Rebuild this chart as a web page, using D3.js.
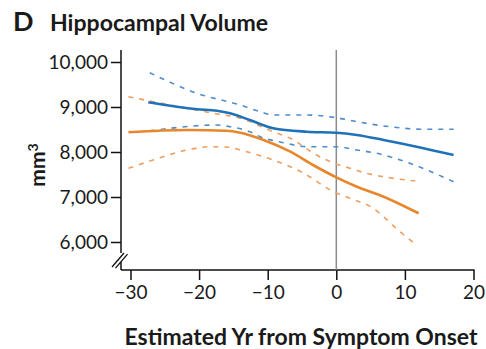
<!DOCTYPE html>
<meta charset="UTF-8">
<head>
    <title>Hippocampal Volume</title>
</head>
<style>
    body { margin: 0; background: #fff; }
    svg text { font-family: Lato, "Open Sans", sans-serif; fill: #1a1a1a; }
</style>
<body>
<div id="chart"></div>
<script src="https://d3js.org/d3.v7.min.js"></script>
<script>
    // 数据 (estimated from the figure)
    var xTicks = [-30, -20, -10, 0, 10, 20];
    var yTicks = [6000, 7000, 8000, 9000, 10000];

    var blueYr = [-27.4, -20.3, -17.4, -15.5, -12.6, -9.2, -4.3, 0, 3, 6.9, 11.7, 17.1];
    var blueMid = [9104, 8950, 8915, 8860, 8711, 8527, 8451, 8429, 8378, 8267, 8118, 7933];
    var blueUpYr = [-27.2, -20.3, -14, -11.1, -9.2, -4.3, 0, 3, 7.8, 12.7, 17.1];
    var blueUp = [9762, 9304, 9044, 8896, 8822, 8822, 8762, 8673, 8562, 8504, 8504];
    var blueLoYr = [-27.2, -24.2, -17.4, -15.5, -12.6, -11.1, -7.7, -4.3, 0, 3, 5.9, 10.7, 17.1];
    var blueLo = [8470, 8527, 8600, 8562, 8451, 8340, 8207, 8118, 8118, 8044, 7971, 7749, 7340];

    var orangeYr = [-30.3, -21.8, -16, -14, -10.6, -6.7, -3.4, 0, 3, 6.9, 12];
    var orangeMid = [8438, 8489, 8473, 8429, 8267, 8007, 7711, 7437, 7229, 7007, 6638];
    var orangeUpYr = [-30.3, -24.2, -17.9, -14, -9.2, -6.7, -2.9, 0, 2, 4.4, 8.3, 11.5];
    var orangeUp = [9229, 9044, 8860, 8749, 8451, 8304, 7933, 7733, 7638, 7527, 7416, 7356];
    var orangeLoYr = [-30.3, -26.7, -21.8, -18.4, -15.5, -14, -9.2, -4.3, -0.9, 2, 5, 9.3, 11.7];
    var orangeLo = [7638, 7822, 8044, 8118, 8104, 8044, 7822, 7489, 7156, 6971, 6785, 6229, 5933];

    var w = 486, h = 349;
    var svg = d3.select("#chart").append("svg").attr("width", w).attr("height", h);

    var x = d3.scaleLinear().domain([-30, 20]).range([130.5, 473.5]);
    var y = d3.scaleLinear().domain([6000, 10000]).range([242, 62]);
    var axisX = 121, axisY = 270, topY = 50;

    // 标题
    svg.append("text").attr("x", 13).attr("y", 31).style("font-size", "27px").style("font-weight", "bold").text("D");
    svg.append("text").attr("x", 50).attr("y", 31).style("font-size", "22px").style("font-weight", "bold")
        .attr("textLength", 218).attr("lengthAdjust", "spacingAndGlyphs").text("Hippocampal Volume");

    // y axis
    var yAxis = svg.append("g").attr("transform", "translate(" + axisX + ",0)")
        .call(d3.axisLeft(y).tickValues(yTicks).tickSize(10).tickPadding(3).tickFormat(d3.format(",")));
    yAxis.select(".domain").remove();
    yAxis.selectAll("line").attr("stroke", "#111").attr("stroke-width", 1.5);
    yAxis.selectAll("text").style("font-size", "19px").attr("dy", "0.35em");
    svg.append("line").attr("x1", axisX).attr("x2", axisX).attr("y1", topY).attr("y2", 253)
        .attr("stroke", "#111").attr("stroke-width", 1.5);
    svg.append("line").attr("x1", axisX).attr("x2", axisX).attr("y1", 262).attr("y2", axisY)
        .attr("stroke", "#111").attr("stroke-width", 1.5);
    // 断轴
    [0, 3.5].forEach(function (o) {
        svg.append("line").attr("x1", 112 + o).attr("y1", 267 + o * 0.3).attr("x2", 124 + o).attr("y2", 253 + o * 0.3)
            .attr("stroke", "#111").attr("stroke-width", 1.3);
    });

    // x axis
    var xAxis = svg.append("g").attr("transform", "translate(0," + axisY + ")")
        .call(d3.axisBottom(x).tickValues(xTicks).tickSize(10).tickPadding(6).tickFormat(d => d < 0 ? "\u2212" + Math.abs(d) : d));
    xAxis.select(".domain").remove();
    xAxis.selectAll("line").attr("stroke", "#111").attr("stroke-width", 1.5);
    xAxis.selectAll("text").style("font-size", "19px");
    svg.append("line").attr("x1", axisX).attr("x2", x(20) + 1).attr("y1", axisY).attr("y2", axisY)
        .attr("stroke", "#111").attr("stroke-width", 1.5);

    // 0 竖线
    svg.append("line").attr("x1", x(0)).attr("x2", x(0)).attr("y1", topY).attr("y2", axisY)
        .attr("stroke", "#8a8a8a").attr("stroke-width", 1.5);

    // 轴标题
    var yt = svg.append("text").attr("transform", "translate(45,165) rotate(-90)").attr("text-anchor", "middle")
        .style("font-size", "21px").style("font-weight", "bold");
    yt.append("tspan").text("mm");
    yt.append("tspan").attr("dy", "-0.5em").style("font-size", "14px").text("3");
    svg.append("text").attr("x", 301).attr("y", 345).attr("text-anchor", "middle")
        .style("font-size", "22px").style("font-weight", "bold")
        .attr("textLength", 353).attr("lengthAdjust", "spacingAndGlyphs").text("Estimated Yr from Symptom Onset");

    // 曲线
    var line = d3.line().x(d => x(d[0])).y(d => y(d[1])).curve(d3.curveMonotoneX);
    function draw(xs, ys, color, dashed) {
        var pts = xs.map((v, i) => [v, ys[i]]);
        svg.append("path").datum(pts).attr("d", line).attr("fill", "none")
            .attr("stroke", color)
            .attr("stroke-width", dashed ? 1.6 : 2.6)
            .attr("stroke-dasharray", dashed ? "5,6" : null)
            .attr("stroke-linecap", "butt");
    }
    var blue = "#1f72b8", orange = "#e8862c";
    var blueLight = "#4f8ccb", orangeLight = "#ee9e5e";
    draw(orangeUpYr, orangeUp, orangeLight, true);
    draw(orangeLoYr, orangeLo, orangeLight, true);
    draw(blueUpYr, blueUp, blueLight, true);
    draw(blueLoYr, blueLo, blueLight, true);
    draw(orangeYr, orangeMid, orange, false);
    draw(blueYr, blueMid, blue, false);
</script>
</body>
